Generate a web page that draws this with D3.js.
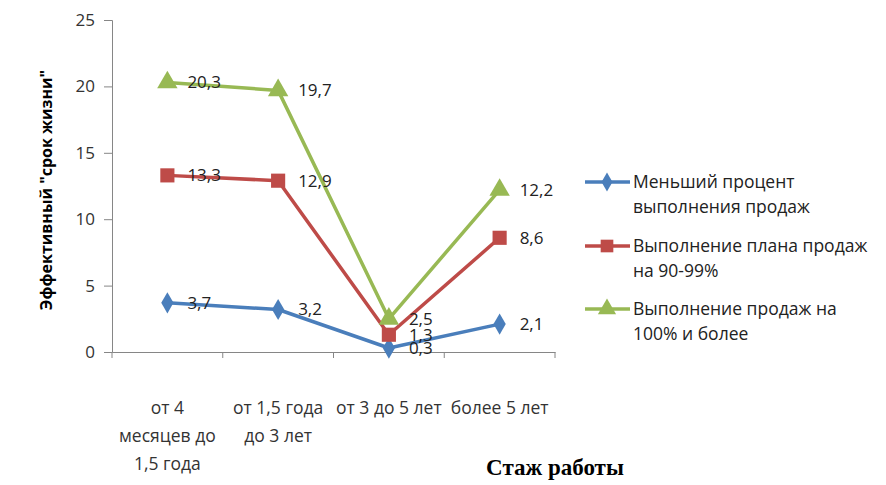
<!DOCTYPE html>
<html>
<head>
<meta charset="utf-8">
<script src="https://cdn.jsdelivr.net/npm/d3@7"></script>
<style>
  body { margin: 0; background: #fff; }
  svg text { font-family: "Open Sans", "Noto Sans", sans-serif; }
</style>
</head>
<body>
<svg id="chart" width="886" height="485"></svg>
<script>
// categories (line-broken as in the picture)
var categories = [
  ["от 4", "месяцев до", "1,5 года"],
  ["от 1,5 года", "до 3 лет"],
  ["от 3 до 5 лет"],
  ["более 5 лет"]
];
var seriesNames = [
  ["Меньший процент", "выполнения продаж"],
  ["Выполнение плана продаж", "на 90-99%"],
  ["Выполнение продаж на", "100% и более"]
];
var lowValues = [3.7, 3.2, 0.3, 2.1];
var midValues = [13.3, 12.9, 1.3, 8.6];
var highValues = [20.3, 19.7, 2.5, 12.2];
var yTicks = [0, 5, 10, 15, 20, 25];

var colors = ["#4a7ebb", "#be4b48", "#98b954"];
var shapes = [d3.symbolDiamond, d3.symbolSquare, d3.symbolTriangle];
var sizes = [130, 200, 180];

var svg = d3.select('#chart');

var x = d3.scaleBand()
  .domain(d3.range(categories.length))
  .range([112, 555]);

var y = d3.scaleLinear()
  .domain([0, 25])
  .range([352, 20]);

// y axis
var yAxis = svg.append('g')
  .attr('transform', 'translate(112,0)')
  .call(d3.axisLeft(y).tickValues(yTicks).tickSize(8).tickPadding(9));
yAxis.selectAll('text')
  .attr('font-size', 17)
  .attr('fill', '#333');

// x axis
var xAxis = svg.append('g')
  .attr('transform', 'translate(0,352)')
  .call(d3.axisBottom(x).tickSize(0).tickFormat(''));
xAxis.selectAll('.tick').remove();
d3.range(categories.length + 1).forEach(function(i) {
  var tx = 112 + i * x.step();
  xAxis.append('line')
    .attr('x1', tx).attr('x2', tx)
    .attr('y1', 0).attr('y2', 6)
    .attr('stroke', '#868686');
});

svg.selectAll('.domain, .tick line').attr('stroke', '#868686');

// category labels
categories.forEach(function(lines, i) {
  var t = svg.append('text')
    .attr('x', x(i) + x.bandwidth() / 2)
    .attr('y', 414)
    .attr('text-anchor', 'middle')
    .attr('font-size', 17.5)
    .attr('fill', '#333');
  lines.forEach(function(l, j) {
    t.append('tspan')
      .attr('x', x(i) + x.bandwidth() / 2)
      .attr('dy', j === 0 ? 0 : 28)
      .text(l);
  });
});

// axis titles
svg.append('text')
  .attr('transform', 'translate(52,190) rotate(-90)')
  .attr('text-anchor', 'middle')
  .attr('font-size', 16)
  .attr('font-weight', 'bold')
  .attr('fill', '#000')
  .text('Эффективный "срок жизни"');

svg.append('text')
  .attr('x', 555)
  .attr('y', 475)
  .attr('text-anchor', 'middle')
  .attr('font-size', 23)
  .attr('font-weight', 'bold')
  .style('font-family', '"Liberation Serif", serif')
  .text('Стаж работы');

// lines and markers
var allSeries = [lowValues, midValues, highValues];
var line = d3.line()
  .x(function(d, i) { return x(i) + x.bandwidth() / 2; })
  .y(function(d) { return y(d); });

allSeries.forEach(function(vals, s) {
  svg.append('path')
    .datum(vals)
    .attr('d', line)
    .attr('fill', 'none')
    .attr('stroke', colors[s])
    .attr('stroke-width', 3.5)
    .attr('stroke-linejoin', 'round');
  svg.selectAll('.m' + s)
    .data(vals)
    .join('path')
    .attr('class', 'm' + s)
    .attr('transform', function(d, i) { return 'translate(' + (x(i) + x.bandwidth() / 2) + ',' + y(d) + ')'; })
    .attr('d', d3.symbol().type(shapes[s]).size(sizes[s]))
    .attr('fill', colors[s]);
});

// data labels
allSeries.forEach(function(vals, s) {
  svg.selectAll('.l' + s)
    .data(vals)
    .join('text')
    .attr('class', 'l' + s)
    .attr('x', function(d, i) { return x(i) + x.bandwidth() / 2 + 20; })
    .attr('y', function(d) { return y(d); })
    .attr('dy', '0.35em')
    .attr('font-size', 17)
    .attr('fill', '#222')
    .text(function(d) { return String(d).replace('.', ','); });
});

// legend
var legendY = [182, 246, 309];
seriesNames.forEach(function(lines, s) {
  var g = svg.append('g').attr('transform', 'translate(0,' + legendY[s] + ')');
  g.append('line')
    .attr('x1', 585).attr('x2', 630)
    .attr('stroke', colors[s]).attr('stroke-width', 3.5);
  g.append('path')
    .attr('transform', 'translate(607,0)')
    .attr('d', d3.symbol().type(shapes[s]).size(sizes[s] * 0.8))
    .attr('fill', colors[s]);
  var t = g.append('text')
    .attr('x', 633)
    .attr('y', 0)
    .attr('font-size', 17.5)
    .attr('fill', '#222');
  lines.forEach(function(l, j) {
    t.append('tspan').attr('x', 633).attr('dy', j === 0 ? '0.35em' : 25).text(l);
  });
});
</script>
</body>
</html>
